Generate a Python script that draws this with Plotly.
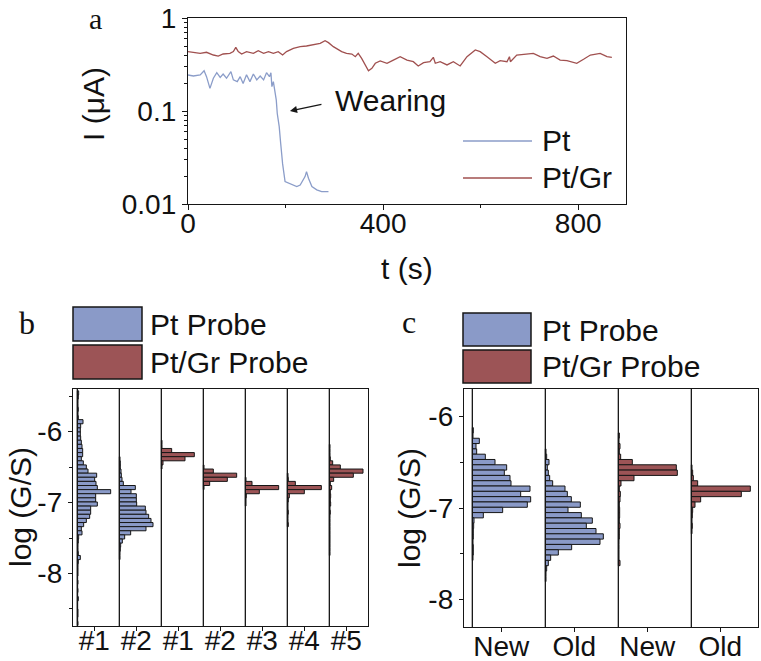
import numpy as np
import plotly.graph_objects as go

W, H = 761, 661

# ---------------- Panel a: current vs time ----------------
pt_time = [0, 11, 25, 33, 38, 45, 52, 59, 66, 72, 79, 88, 93, 101, 107, 113, 120, 127, 134, 141,
           148, 155, 161, 167, 170, 172, 175, 178, 181, 183, 187, 190, 194, 199, 204, 213, 223,
           230, 240, 243, 247, 254, 264, 274, 288]
pt_current = [0.244, 0.238, 0.244, 0.271, 0.234, 0.175, 0.225, 0.258, 0.230, 0.250, 0.225, 0.265,
              0.216, 0.207, 0.234, 0.198, 0.245, 0.207, 0.250, 0.216, 0.238, 0.216, 0.258, 0.234,
              0.258, 0.183, 0.207, 0.168, 0.131, 0.094, 0.068, 0.045, 0.027, 0.0174, 0.0170,
              0.0164, 0.0154, 0.0160, 0.0197, 0.0223, 0.0189, 0.0154, 0.0142, 0.0136, 0.0136]
ptgr_time = [0, 11, 25, 38, 52, 62, 72, 86, 93, 98, 103, 110, 120, 134, 144, 155, 165, 175, 185,
             194, 202, 216, 230, 243, 257, 271, 281, 288, 298, 308, 315, 325, 336, 343, 349, 356,
             363, 370, 377, 384, 394, 408, 421, 435, 449, 462, 472, 483, 496, 503, 507, 517, 531,
             544, 558, 572, 589, 599, 613, 630, 640, 654, 659, 661, 674, 695, 708, 722, 736, 749,
             763, 777, 797, 811, 825, 845, 859, 869]
ptgr_current = [0.435, 0.424, 0.417, 0.428, 0.400, 0.390, 0.410, 0.417, 0.435, 0.484, 0.435, 0.410,
                0.435, 0.417, 0.445, 0.417, 0.435, 0.417, 0.435, 0.400, 0.435, 0.472, 0.492, 0.500,
                0.513, 0.534, 0.570, 0.543, 0.492, 0.453, 0.435, 0.417, 0.410, 0.384, 0.417, 0.368,
                0.313, 0.271, 0.288, 0.326, 0.345, 0.326, 0.353, 0.384, 0.353, 0.339, 0.305, 0.331,
                0.339, 0.378, 0.326, 0.339, 0.313, 0.339, 0.305, 0.384, 0.453, 0.435, 0.384, 0.326,
                0.348, 0.339, 0.384, 0.339, 0.400, 0.410, 0.417, 0.384, 0.368, 0.390, 0.353, 0.348,
                0.326, 0.360, 0.400, 0.417, 0.384, 0.378]

# ---------------- Histograms of log(G/S) ----------------
BIN_WIDTH = 0.058
# each histogram: centre of its highest bin, then counts going down bin by bin
b_labels = ["#1", "#2", "#1", "#2", "#3", "#4", "#5"]
b_probe = ["Pt", "Pt", "Pt/Gr", "Pt/Gr", "Pt/Gr", "Pt/Gr", "Pt/Gr"]
b_top = [-5.455, -6.383, -6.151, -6.499, -6.673, -6.615, -6.209]
b_pt1 = [4, 3, 2, 2, 3, 2, 3, 17, 10, 9, 9, 10, 12, 14, 16, 16, 12, 18, 27, 32, 58, 52, 56, 60, 100,
         55, 55, 60, 40, 40, 37, 27, 19, 12, 14, 4, 3, 2, 2, 3, 9, 3, 2, 2, 2, 1, 2, 1, 2, 1, 3, 1,
         1, 2, 2, 1, 2]
b_pt2 = [2, 3, 3, 5, 6, 8, 12, 48, 35, 51, 51, 52, 78, 80, 88, 95, 101, 80, 34, 16, 9, 4, 3, 2, 2]
b_gr1 = [2, 2, 31, 99, 71, 5, 2]
b_gr2 = [2, 30, 100, 72, 19, 2]
b_gr3 = [2, 20, 100, 42, 3, 2, 2]
b_gr4 = [2, 3, 24, 102, 51, 6, 3, 2, 2, 3, 2, 2, 3]
b_gr5 = [2, 2, 2, 3, 10, 33, 101, 72, 13, 3, 7, 3, 4, 3, 4, 2, 3, 2, 2, 2, 2, 2, 2, 2, 2, 2, 2]
b_counts = [b_pt1, b_pt2, b_gr1, b_gr2, b_gr3, b_gr4, b_gr5]

c_labels = ["New", "Old", "New", "Old"]
c_probe = ["Pt", "Pt", "Pt/Gr", "Pt/Gr"]
c_top = [-6.151, -6.383, -6.209, -6.557]
c_pt_new = [3, 2, 21, 11, 13, 39, 68, 103, 96, 113, 116, 173, 145, 175, 165, 91, 33, 5, 4, 3, 3, 2,
            3, 3, 2]
c_pt_old = [2, 4, 11, 6, 9, 13, 22, 59, 66, 78, 105, 68, 108, 141, 123, 152, 174, 164, 79, 39, 16,
            9, 4, 2, 2]
c_gr_new = [3, 2, 5, 3, 7, 42, 174, 177, 47, 8, 3, 6, 5, 3, 4, 4, 3, 5, 3, 3, 2, 2, 2, 2, 5]
c_gr_old = [2, 4, 6, 19, 177, 150, 28, 11, 4, 3, 2, 3, 2]
c_counts = [c_pt_new, c_pt_old, c_gr_new, c_gr_old]

# ---------------- style ----------------
BLUE_FILL = "#8a9ac8"
RED_FILL = "#9c5456"
BLUE_LINE = "#8b9dc9"
RED_LINE = "#a0504f"
INK = "#161616"
SANS = "Liberation Sans, Arial, sans-serif"
SERIF = "Liberation Serif, Times New Roman, serif"
B_SLOT, B_TICK = 126, 51
C_SLOT, C_TICK = 219, 87


def px_x(p):
    return p / W


def px_y(p):
    return 1 - p / H


fig = go.Figure()

fig.add_trace(go.Scatter(x=pt_time, y=pt_current, mode="lines", name="Pt",
                         line=dict(color=BLUE_LINE, width=1.3), xaxis="x", yaxis="y"))
fig.add_trace(go.Scatter(x=ptgr_time, y=ptgr_current, mode="lines", name="Pt/Gr",
                         line=dict(color=RED_LINE, width=1.3), xaxis="x", yaxis="y"))


def add_hists(counts_list, tops, probes, slot, xa, ya):
    for i, (cnt, top, pr) in enumerate(zip(counts_list, tops, probes)):
        centres = top - BIN_WIDTH * np.arange(len(cnt))
        fig.add_trace(go.Bar(
            y=centres, x=cnt, base=i * slot, orientation="h", width=BIN_WIDTH,
            marker=dict(color=BLUE_FILL if pr == "Pt" else RED_FILL,
                        line=dict(color=INK, width=1)),
            xaxis=xa, yaxis=ya, showlegend=False))
        fig.add_shape(type="line", xref=xa, yref=ya + " domain", x0=i * slot, x1=i * slot,
                      y0=0, y1=1, line=dict(color=INK, width=1.3), layer="above")


add_hists(b_counts, b_top, b_probe, B_SLOT, "x2", "y2")
add_hists(c_counts, c_top, c_probe, C_SLOT, "x3", "y3")

axis_common = dict(showline=True, linecolor=INK, linewidth=1.3, mirror=True, ticks="outside",
                   tickcolor=INK, tickwidth=1.3, showgrid=False, zeroline=False,
                   automargin=False,
                   tickfont=dict(family=SANS, size=28, color="#111"))

log_minor = [m * 10.0 ** e for e in (-2, -1) for m in range(2, 10)]

fig.update_layout(
    width=W, height=H, margin=dict(l=0, r=0, t=0, b=0, pad=0), autosize=False,
    paper_bgcolor="white", plot_bgcolor="white", showlegend=False, barmode="overlay",
    xaxis=dict(domain=[px_x(188), px_x(626)], range=[0, 898], tickvals=[0, 400, 800],
               ticklen=5, ticklabelstandoff=-11,
               minor=dict(tickvals=[200, 600], ticks="outside", ticklen=3,
                          tickcolor=INK, tickwidth=1.2),
               anchor="y", **axis_common),
    yaxis=dict(domain=[px_y(204), px_y(18)], type="log", range=[-2, 0],
               tickvals=[0.01, 0.1, 1], ticktext=["0.01", "0.1", "1"], ticklen=5,
               minor=dict(tickvals=log_minor, ticks="outside", ticklen=3, tickcolor=INK,
                          tickwidth=1.2),
               anchor="x", **axis_common),
    xaxis2=dict(domain=[px_x(73), px_x(368)], range=[-13, 872],
                tickvals=[i * B_SLOT + B_TICK for i in range(len(b_labels))],
                ticktext=b_labels, ticklen=4, ticklabelstandoff=-15,
                anchor="y2", **axis_common),
    yaxis2=dict(domain=[px_y(626), px_y(389)], range=[-8.74, -5.40],
                tickvals=[-8, -7, -6], ticktext=["-8", "-7", "-6"], ticklen=4,
                minor=dict(tickvals=[-8.5, -7.5, -6.5, -5.5], ticks="outside", ticklen=3,
                           tickcolor=INK, tickwidth=1.2),
                anchor="x2", **axis_common),
    xaxis3=dict(domain=[px_x(464), px_x(758)], range=[-25, 857],
                tickvals=[i * C_SLOT + C_TICK for i in range(len(c_labels))],
                ticktext=c_labels, ticklen=4, ticklabelstandoff=-10,
                anchor="y3", **axis_common),
    yaxis3=dict(domain=[px_y(627), px_y(389)], range=[-8.30, -5.70],
                tickvals=[-8, -7, -6], ticktext=["-8", "-7", "-6"], ticklen=4,
                minor=dict(tickvals=[-7.5, -6.5], ticks="outside", ticklen=3,
                           tickcolor=INK, tickwidth=1.2),
                anchor="x3", **axis_common),
)

ann = []


def text(s, x, y, size=30, family=SANS, xanchor="center", yanchor="middle", angle=0):
    ann.append(dict(text=s, x=px_x(x), y=px_y(y), xref="paper", yref="paper", showarrow=False,
                    xanchor=xanchor, yanchor=yanchor, textangle=angle, borderpad=0,
                    font=dict(family=family, size=size, color="#111")))


# panel letters
text("a", 95, 0.5, size=30, family=SERIF, yanchor="top")
text("b", 27, 323, size=32, family=SERIF)
text("c", 409, 322, size=32, family=SERIF)

# axis titles
text("t (s)", 407, 268)
text("I (\u03bcA)", 94, 104, angle=-90)
text("log (G/S)", 20, 507, angle=-90)
text("log (G/S)", 409, 508, angle=-90)

# Wearing annotation
text("Wearing", 334, 100, xanchor="left")
ann.append(dict(text="", x=209, y=-1, xref="x", yref="y", ax=33, ay=-7, axref="pixel",
                ayref="pixel", showarrow=True, arrowhead=2, arrowsize=1.1, arrowwidth=1.3,
                arrowcolor=INK, standoff=0))

# panel a legend
for lbl, col, yy in [("Pt", BLUE_LINE, 141), ("Pt/Gr", RED_LINE, 178)]:
    fig.add_shape(type="line", xref="paper", yref="paper", x0=px_x(463), x1=px_x(532),
                  y0=px_y(yy), y1=px_y(yy), line=dict(color=col, width=1.5))
    text(lbl, 541, yy, xanchor="left")

# panel b & c legends
for (x0, x1, tx, rows) in [
        (73, 142, 149, [("Pt Probe", BLUE_FILL, 307, 341, 324), ("Pt/Gr Probe", RED_FILL, 345, 379, 362)]),
        (463, 531, 541, [("Pt Probe", BLUE_FILL, 313, 346, 330), ("Pt/Gr Probe", RED_FILL, 350, 383, 366)])]:
    for lbl, col, y0, y1, ty in rows:
        fig.add_shape(type="rect", xref="paper", yref="paper", x0=px_x(x0), x1=px_x(x1),
                      y0=px_y(y1), y1=px_y(y0), fillcolor=col, line=dict(color=INK, width=1.5))
        text(lbl, tx, ty, xanchor="left")

fig.update_layout(annotations=ann)

fig.write_html("out.html")
